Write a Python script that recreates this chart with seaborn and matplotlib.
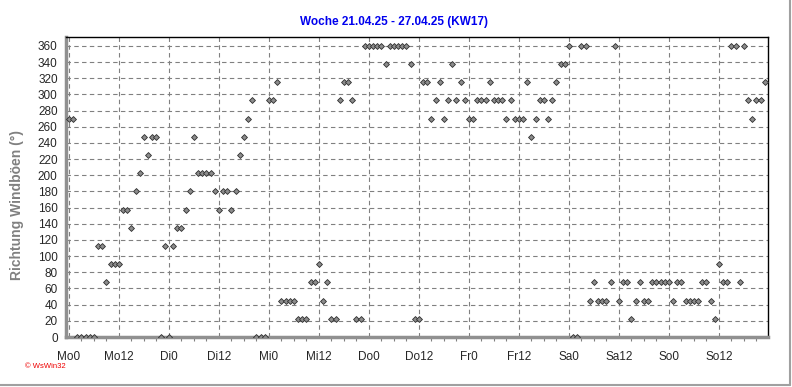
import numpy as np
import pandas as pd
import seaborn as sns
import matplotlib.pyplot as plt
from matplotlib.lines import Line2D
from matplotlib.ticker import MultipleLocator

# Windböen-Richtung in Grad, ein Wert pro Stunde (0..23) je Tag
mo = [270, 270, 0, 0, 0, 0, 0, 112.5, 112.5, 67.5, 90, 90, 90, 157.5, 157.5, 135,
      180, 202.5, 247.5, 225, 247.5, 247.5, 0, 112.5]
di = [0, 112.5, 135, 135, 157.5, 180, 247.5, 202.5, 202.5, 202.5, 202.5, 180, 157.5,
      180, 180, 157.5, 180, 225, 247.5, 270, 292.5, 0, 0, 0]
mi = [292.5, 292.5, 315, 45, 45, 45, 45, 22.5, 22.5, 22.5, 67.5, 67.5, 90, 45, 67.5,
      22.5, 22.5, 292.5, 315, 315, 292.5, 22.5, 22.5, 360]
do = [360, 360, 360, 360, 337.5, 360, 360, 360, 360, 360, 337.5, 22.5, 22.5, 315, 315,
      270, 292.5, 315, 270, 292.5, 337.5, 292.5, 315, 292.5]
fr = [270, 270, 292.5, 292.5, 292.5, 315, 292.5, 292.5, 292.5, 270, 292.5, 270, 270,
      270, 315, 247.5, 270, 292.5, 292.5, 270, 292.5, 315, 337.5, 337.5]
sa = [360, 0, 0, 360, 360, 45, 67.5, 45, 45, 45, 67.5, 360, 45, 67.5, 67.5, 22.5, 45,
      67.5, 45, 45, 67.5, 67.5, 67.5, 67.5]
so = [67.5, 45, 67.5, 67.5, 45, 45, 45, 45, 67.5, 67.5, 45, 22.5, 90, 67.5, 67.5, 360,
      360, 67.5, 360, 292.5, 270, 292.5, 292.5, 315]

days = ["Mo", "Di", "Mi", "Do", "Fr", "Sa", "So"]
day_values = [mo, di, mi, do, fr, sa, so]

rows = []
for d, vals in enumerate(day_values):
    for h, v in enumerate(vals):
        rows.append({"stunde": d * 24 + h, "richtung": v})
df = pd.DataFrame(rows)

tick_labels = [f"{d}{h}" for d in days for h in (0, 12)]

sns.set_style("white")
plt.rcParams["font.family"] = ["Liberation Sans", "DejaVu Sans"]

fig = plt.figure(figsize=(7.92, 3.87), dpi=100)
ax = fig.add_axes([66 / 792, 1 - 337 / 387, 702 / 792, 300 / 387])

sns.scatterplot(
    data=df, x="stunde", y="richtung", ax=ax,
    marker="D", s=9, color="#8c8c8c", edgecolor="#303030", linewidth=0.6,
    zorder=3, clip_on=True,
)

ax.set_xlim(-0.7, 167.8)
ax.set_ylim(0, 371)

ax.set_xticks(np.arange(0, 168, 12))
ax.set_xticklabels(tick_labels)
ax.xaxis.set_minor_locator(MultipleLocator(3))
ax.set_yticks(np.arange(0, 361, 20))

ax.grid(True, which="major", color="#808080", linestyle=(0, (4, 3)), linewidth=0.8)
ax.tick_params(axis="both", which="major", direction="out", length=4, width=0.8,
               color="#808080", labelsize=8.5, pad=2)
ax.tick_params(axis="x", which="minor", direction="out", length=3, width=0.8,
               color="#808080", bottom=True)
ax.tick_params(axis="x", which="major", pad=6)

for side in ("left", "bottom"):
    ax.spines[side].set_color("#909090")
    ax.spines[side].set_linewidth(2.5)
for side in ("top", "right"):
    ax.spines[side].set_color("black")
    ax.spines[side].set_linewidth(1.0)

ax.set_xlabel("")
ax.set_ylabel("")

fig.text(0.497, 1 - 22 / 387, "Woche 21.04.25 - 27.04.25 (KW17)", ha="center",
         va="center", color="#0000ee", fontsize=8.5, fontweight="bold")
fig.text(0.022, 1 - 205 / 387, "Richtung Windböen (°)", rotation=90, ha="center",
         va="center", color="#808080", fontsize=10, fontweight="bold")
fig.text(0.032, 1 - 367 / 387, "© WsWin32", ha="left", va="center",
         color="#ee0000", fontsize=5.5)

# grauer Rahmen rechts und unten
fig.add_artist(Line2D([0.9975, 0.9975], [0.005, 1], transform=fig.transFigure,
                      color="#a0a0a0", linewidth=1.5))
fig.add_artist(Line2D([0, 0.9975], [0.005, 0.005], transform=fig.transFigure,
                      color="#a0a0a0", linewidth=1.5))

fig.savefig("out.png", dpi=100)
